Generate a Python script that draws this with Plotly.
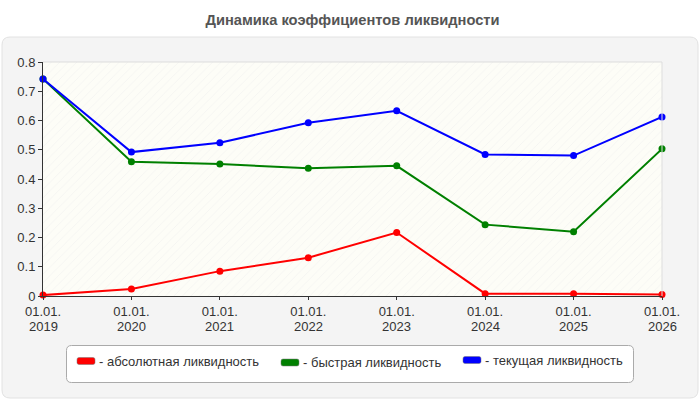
import plotly.graph_objects as go

years = [2019, 2020, 2021, 2022, 2023, 2024, 2025, 2026]
tick_day = "01.01."
absolute = [0.003, 0.024, 0.085, 0.131, 0.217, 0.008, 0.008, 0.005]
quick = [0.742, 0.459, 0.451, 0.437, 0.445, 0.244, 0.220, 0.503]
current = [0.742, 0.492, 0.524, 0.592, 0.633, 0.484, 0.480, 0.612]

names = ["- абсолютная ликвидность", "- быстрая ликвидность", "- текущая ликвидность"]
colors = ["#ff0000", "#008000", "#0000ff"]
series = [absolute, quick, current]

y_range = [0, 0.8]
x_range = [years[0], years[-1]]

fig = go.Figure()

# hatched plot background
fig.add_trace(go.Scatter(
    x=[x_range[0], x_range[1], x_range[1], x_range[0], x_range[0]],
    y=[y_range[0], y_range[0], y_range[1], y_range[1], y_range[0]],
    mode="none", fill="toself", fillcolor="rgba(0,0,0,0)",
    fillpattern=dict(shape="/", fgcolor="#ececec", bgcolor="#fdfdf7", size=6, solidity=0.15),
    showlegend=False, hoverinfo="skip"))

for name, c, s in zip(names, colors, series):
    fig.add_trace(go.Scatter(x=years, y=s, mode="lines+markers", name=name,
                             line=dict(color=c, width=2), marker=dict(color=c, size=7),
                             showlegend=False, cliponaxis=False))

L, R, T, B = 43, 38, 62, 104
W, H = 700, 400
pw, ph = W - L - R, H - T - B

def px_x(p):
    return (p - L) / pw

def px_y(p):
    return (H - B - p) / ph

def rounded(x0, y0, x1, y1, r):
    return (f"M {px_x(x0 + r)} {px_y(y0)} L {px_x(x1 - r)} {px_y(y0)} "
            f"Q {px_x(x1)} {px_y(y0)} {px_x(x1)} {px_y(y0 + r)} "
            f"L {px_x(x1)} {px_y(y1 - r)} Q {px_x(x1)} {px_y(y1)} {px_x(x1 - r)} {px_y(y1)} "
            f"L {px_x(x0 + r)} {px_y(y1)} Q {px_x(x0)} {px_y(y1)} {px_x(x0)} {px_y(y1 - r)} "
            f"L {px_x(x0)} {px_y(y0 + r)} Q {px_x(x0)} {px_y(y0)} {px_x(x0 + r)} {px_y(y0)} Z")

# rounded container
fig.add_shape(type="path", path=rounded(2, 37, 698, 398, 8), xref="paper", yref="paper",
              fillcolor="#f4f4f4", line=dict(color="#e2e2e2", width=1), layer="below")

# legend box
fig.add_shape(type="path", path=rounded(66.5, 345.5, 633.5, 382.5, 5), xref="paper", yref="paper",
              fillcolor="white", line=dict(color="#aaaaaa", width=1))

legend_swatch_x = [77, 281, 463]
legend_center_y = [361, 362.5, 360]
for name, c, sx, cy in zip(names, colors, legend_swatch_x, legend_center_y):
    fig.add_shape(type="path", path=rounded(sx, cy - 3.5, sx + 18, cy + 3.5, 2),
                  xref="paper", yref="paper", fillcolor=c, line=dict(color="#777777", width=0.5))
    fig.add_annotation(text=name, xref="paper", yref="paper", x=px_x(sx + 20), y=px_y(cy),
                       xanchor="left", yanchor="middle", showarrow=False,
                       font=dict(size=13, color="#333"))

# second line of x tick labels (years)
for yr in years:
    fig.add_annotation(text=str(yr), xref="x", yref="paper", x=yr, y=px_y(326),
                       xanchor="center", yanchor="middle", showarrow=False,
                       font=dict(size=13, color="#333"), borderpad=0)

fig.update_layout(
    width=W, height=H,
    margin=dict(l=L, r=R, t=T, b=B, autoexpand=False),
    paper_bgcolor="white", plot_bgcolor="rgba(0,0,0,0)",
    showlegend=False,
    font=dict(family="Liberation Sans, Arial, sans-serif", size=13, color="#333"),
    title=dict(text="<b>Динамика коэффициентов ликвидности</b>", x=0.5, xanchor="center",
               xref="paper", y=1 - 20 / H, yanchor="middle",
               font=dict(family="Liberation Sans Narrow, Liberation Sans, Arial", size=14.7, color="#555")),
    xaxis=dict(range=x_range, tickvals=years, ticktext=[tick_day] * len(years), showgrid=True,
               gridcolor="#dddddd", griddash="dash", gridwidth=1, automargin=False,
               showline=True, linecolor="#333", linewidth=1, mirror=False,
               ticks="outside", ticklen=3, tickcolor="#333", zeroline=False,
               tickfont=dict(size=13, color="#333")),
    yaxis=dict(range=y_range, dtick=0.1, tickformat=".1~f", showgrid=True,
               gridcolor="#dddddd", griddash="dash", gridwidth=1, automargin=False,
               showline=True, linecolor="#333", linewidth=1,
               ticks="outside", ticklen=4, tickcolor="#333", zeroline=False,
               tickfont=dict(size=13, color="#333")),
)

# light border on top/right of plot area
fig.add_shape(type="line", xref="paper", yref="paper", x0=0, x1=1, y0=1, y1=1,
              line=dict(color="#dddddd", width=1))
fig.add_shape(type="line", xref="paper", yref="paper", x0=1, x1=1, y0=0, y1=1,
              line=dict(color="#dddddd", width=1))

fig.write_html("out.html")
